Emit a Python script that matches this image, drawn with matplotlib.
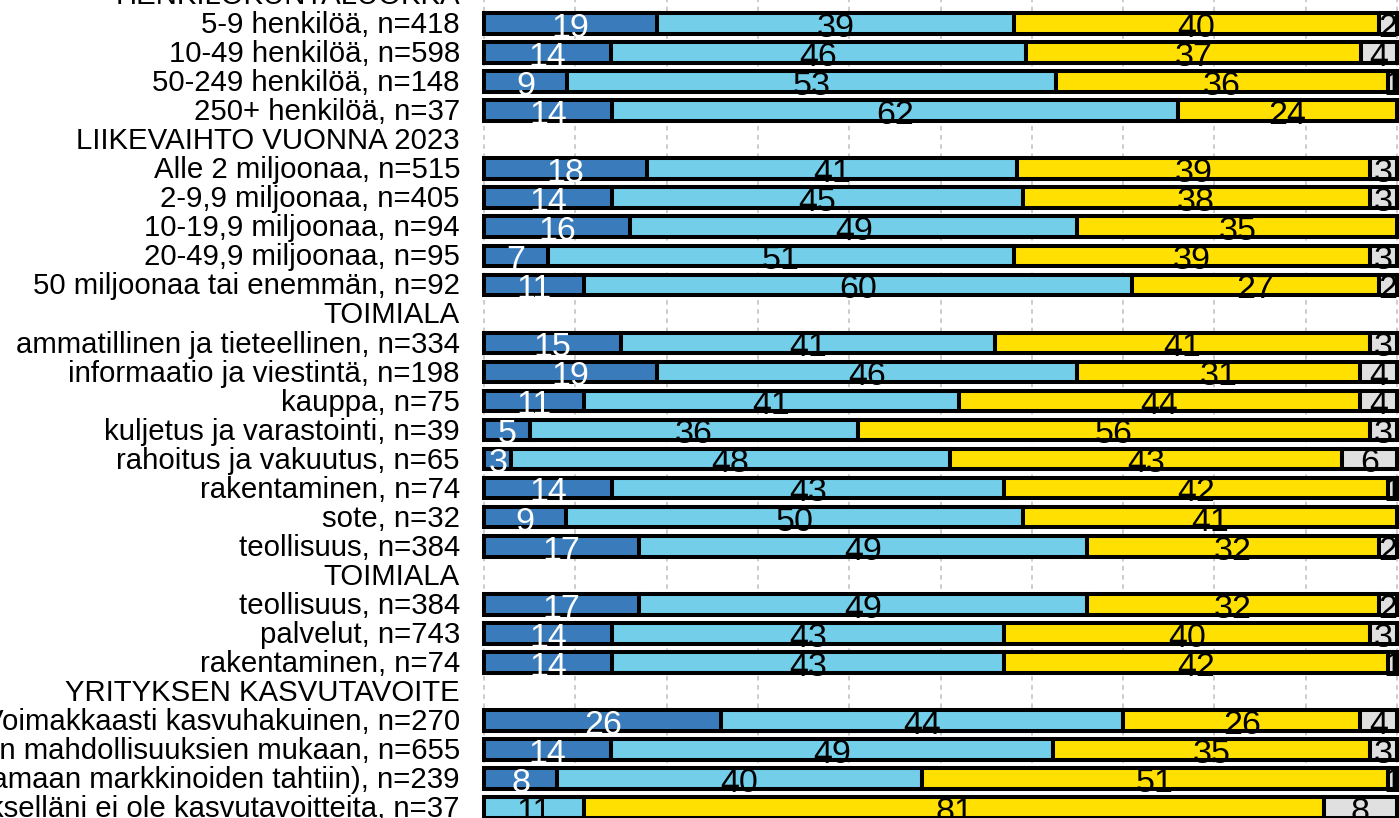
import matplotlib
matplotlib.use("Agg")
import matplotlib.pyplot as plt
from matplotlib.transforms import blended_transform_factory

plt.rcParams['font.family'] = ['Liberation Sans', 'DejaVu Sans']

# Row labels (rows with None values are group header rows)
labels = [
    "HENKILÖKUNTALUOKKA",
    "5-9 henkilöä, n=418",
    "10-49 henkilöä, n=598",
    "50-249 henkilöä, n=148",
    "250+ henkilöä, n=37",
    "LIIKEVAIHTO VUONNA 2023",
    "Alle 2 miljoonaa, n=515",
    "2-9,9 miljoonaa, n=405",
    "10-19,9 miljoonaa, n=94",
    "20-49,9 miljoonaa, n=95",
    "50 miljoonaa tai enemmän, n=92",
    "TOIMIALA",
    "ammatillinen ja tieteellinen, n=334",
    "informaatio ja viestintä, n=198",
    "kauppa, n=75",
    "kuljetus ja varastointi, n=39",
    "rahoitus ja vakuutus, n=65",
    "rakentaminen, n=74",
    "sote, n=32",
    "teollisuus, n=384",
    "TOIMIALA",
    "teollisuus, n=384",
    "palvelut, n=743",
    "rakentaminen, n=74",
    "YRITYKSEN KASVUTAVOITE",
    "Voimakkaasti kasvuhakuinen, n=270",
    "Kasvuhakuinen mahdollisuuksien mukaan, n=655",
    "Vakaa (kasvaa samaan markkinoiden tahtiin), n=239",
    "Yritykselläni ei ole kasvutavoitteita, n=37",
]

s1 = [None, 19, 14, 9, 14, None, 18, 14, 16, 7, 11, None, 15, 19, 11, 5, 3, 14, 9, 17, None, 17, 14, 14, None, 26, 14, 8, 0]
s2 = [None, 39, 46, 53, 62, None, 41, 45, 49, 51, 60, None, 41, 46, 41, 36, 48, 43, 50, 49, None, 49, 43, 43, None, 44, 49, 40, 11]
s3 = [None, 40, 37, 36, 24, None, 39, 38, 35, 39, 27, None, 41, 31, 44, 56, 43, 42, 41, 32, None, 32, 40, 42, None, 26, 35, 51, 81]
s4 = [None, 2, 4, 1, 0, None, 3, 3, 0, 3, 2, None, 3, 4, 4, 3, 6, 1, 0, 2, None, 2, 3, 1, None, 4, 3, 1, 8]

series = [s1, s2, s3, s4]
colors = ["#3A7CBB", "#73CEE9", "#FFE000", "#E0E0E0"]
text_colors = ["white", "black", "black", "black"]

W, H = 1399, 818
fig = plt.figure(figsize=(W / 100, H / 100), dpi=100)
x0, x100 = 484, 1397
ax = fig.add_axes([x0 / W, 0, (x100 - x0) / W, 1])

row_px0 = 23.5
row_step = 29.04
top = 1 - row_px0 / row_step
bottom = 1 + (H - row_px0) / row_step
ax.set_xlim(0, 100)
ax.set_ylim(bottom, top)

for xv in range(0, 101, 10):
    ax.axvline(xv, color="#BFBFBF", lw=1.1, ls=(0, (3, 3)), zorder=0, clip_on=False)

bar_h = 0.71
for i in range(len(labels)):
    if s1[i] is None:
        continue
    vals = [s[i] for s in series]
    tot = sum(vals)
    left = 0.0
    for k, v in enumerate(vals):
        w = v * 100.0 / tot
        if v > 0:
            ax.barh(i, w, left=left, height=bar_h, color=colors[k],
                    edgecolor="black", linewidth=2.9, zorder=2, clip_on=False)
            ax.text(left + w / 2, i + 0.46, str(v), ha="center", va="baseline",
                    fontsize=24.5, color=text_colors[k], zorder=3)
        left += w

tr = blended_transform_factory(fig.transFigure, ax.transData)
for i, lab in enumerate(labels):
    ax.text(460 / W, i + 0.33, lab, transform=tr, ha="right", va="baseline",
            fontsize=21.2, color="black")

for sp in ax.spines.values():
    sp.set_visible(False)
ax.set_xticks([])
ax.set_yticks([])

fig.savefig("out.png", dpi=100)
